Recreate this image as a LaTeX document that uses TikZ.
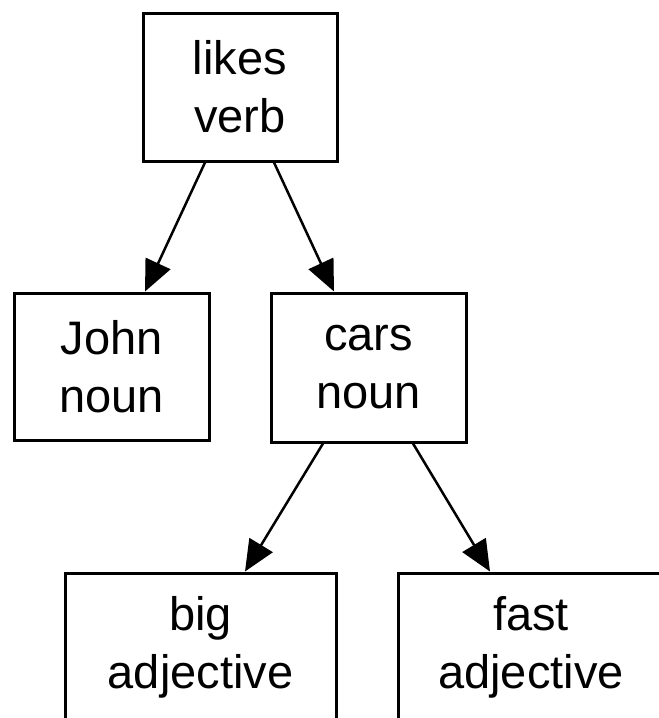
\documentclass[tikz,border=0pt]{standalone}
\usepackage{fontspec}
\setmainfont{Liberation Sans}
\usetikzlibrary{arrows.meta}
\begin{document}
\begin{tikzpicture}[x=1pt,y=-1pt,
  wbox/.style={draw=black, line width=3pt, rectangle, inner sep=0pt, align=center,
    font=\fontsize{47}{58}\selectfont},
  link/.style={line width=2.5pt, -{Triangle[length=31pt,width=27pt]}}]
\useasboundingbox (0,0) rectangle (659,718);
\clip (0,0) rectangle (659,718);
\fill[white] (0,0) rectangle (659,718);
\node[wbox, minimum width=194pt, minimum height=148pt] (likes) at (240,87) {likes\\verb};
\node[wbox, minimum width=195pt, minimum height=147pt] (john) at (111.5,366.5) {John\\noun};
\node[wbox, minimum width=195pt, minimum height=149pt] (cars) at (368.5,367.5) {cars\\noun};
\node[wbox, minimum width=271pt, minimum height=148pt] (big) at (200.5,647) {big\\adjective};
\node[wbox, minimum width=266pt, minimum height=148pt] (fast) at (531,647) {fast\\adjective};
\draw[link] ([xshift=-35pt]likes.south) -- ([xshift=33.5pt]john.north);
\draw[link] ([xshift=34pt]likes.south) -- ([xshift=-34.5pt]cars.north);
\draw[link] ([xshift=-45.5pt]cars.south) -- ([xshift=44.5pt]big.north);
\draw[link] ([xshift=44.5pt]cars.south) -- ([xshift=-41pt]fast.north);
\end{tikzpicture}
\end{document}
